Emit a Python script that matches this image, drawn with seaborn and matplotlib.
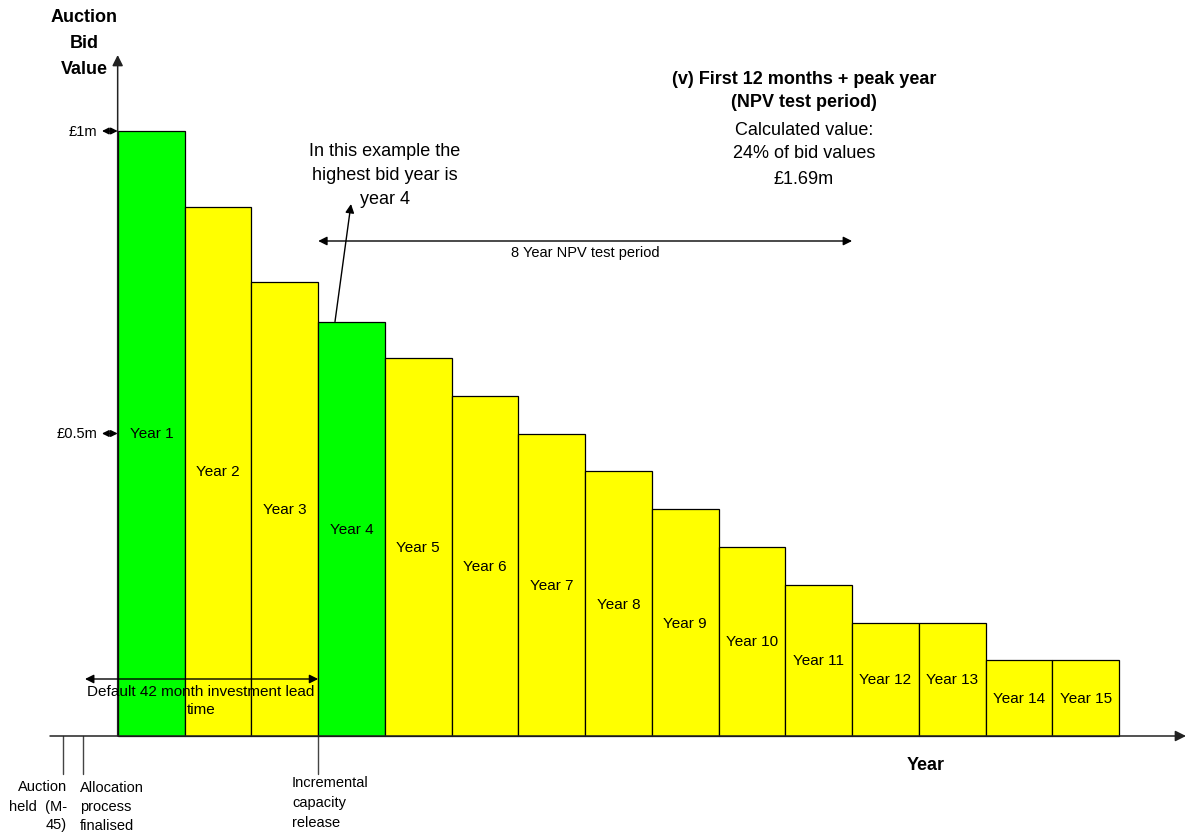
import matplotlib
matplotlib.use("Agg")
import matplotlib.pyplot as plt
import seaborn as sns
import pandas as pd

# Bid values per delivery year (in £m)
years = [f"Year {i}" for i in range(1, 16)]
bid_values = [1.0, 0.875, 0.75, 0.685, 0.625, 0.5625, 0.5, 0.4375,
              0.375, 0.3125, 0.25, 0.1875, 0.1875, 0.125, 0.125]
# Years inside the NPV test (first 12 months + peak year)
npv_years = ["Year 1", "Year 4"]
tick_values = [1.0, 0.5]
tick_labels = ["£1m", "£0.5m"]

sns.set_theme(style="white")
plt.rcParams["font.family"] = ["Liberation Sans", "DejaVu Sans"]
plt.rcParams["text.color"] = "black"

GREEN = "#00FF00"
YELLOW = "#FFFF00"
colors = {y: (GREEN if y in npv_years else YELLOW) for y in years}

df = pd.DataFrame({"year": years, "value": bid_values})

fig = plt.figure(figsize=(11.86, 8.37), dpi=100)
ax = fig.add_axes([0, 0, 1, 1])

sns.barplot(data=df, x="year", y="value", hue="year", palette=colors,
            order=years, legend=False, width=1.0, edgecolor="black",
            linewidth=0.9, saturation=1, ax=ax, zorder=2)

# canvas helpers: one bar = one unit on x, £1m = 605 px on y
BAR_W = (1119 - 118) / 15.0
def X(px):
    return -0.5 + (px - 118) / BAR_W
def Y(py):
    return (737 - py) / 605.0

ax.set_xlim(X(0), X(1186))
ax.set_ylim(Y(837), Y(0))
ax.axis("off")

def lines(x, ys, texts, **kw):
    for yy, t in zip(ys, texts):
        ax.text(x, Y(yy), t, va="center", **kw)

# bar labels at mid-height
for i, (y, v) in enumerate(zip(years, bid_values)):
    ax.text(i, v / 2, y, ha="center", va="center", fontsize=11, zorder=3)

# axes with arrowheads
ax.annotate("", xy=(X(1186), 0), xytext=(X(50), 0),
            arrowprops=dict(arrowstyle="-|>", color="#222222", lw=1.1,
                            mutation_scale=16, shrinkA=0, shrinkB=0), zorder=4)
ax.annotate("", xy=(-0.505, Y(56)), xytext=(-0.505, 0),
            arrowprops=dict(arrowstyle="-|>", color="#222222", lw=1.1,
                            mutation_scale=16, shrinkA=0, shrinkB=0), zorder=4)

lines(X(84), [18, 43, 70], ["Auction", "Bid", "Value"], ha="center",
      fontsize=13, fontweight="bold")

# value ticks on the y axis
for v, lab in zip(tick_values, tick_labels):
    ax.annotate("", xy=(X(102), v), xytext=(-0.505, v),
                arrowprops=dict(arrowstyle="<|-|>", color="black", lw=1,
                                mutation_scale=10, shrinkA=0, shrinkB=0), zorder=4)
    ax.text(X(97), v, lab, ha="right", va="center", fontsize=10.5)

ax.text(X(926), Y(766), "Year", ha="center", va="center",
        fontsize=13, fontweight="bold")

# timeline markers below the axis
for xp in (63, 83, 318):
    ax.plot([X(xp), X(xp)], [0, Y(775)], color="#444444", lw=1, zorder=1)

lines(X(67), [787, 807, 825], ["Auction", "held  (M-", "45)"], ha="right",
      fontsize=10.5)
lines(X(80), [788, 807, 826], ["Allocation", "process", "finalised"],
      ha="left", fontsize=10.5)
lines(X(292), [783, 803, 823], ["Incremental", "capacity", "release"],
      ha="left", fontsize=10.5)

# 42 month lead time
ax.annotate("", xy=(2.5, Y(680)), xytext=(X(85), Y(680)),
            arrowprops=dict(arrowstyle="<|-|>", color="black", lw=1,
                            mutation_scale=13, shrinkA=0, shrinkB=0), zorder=4)
for yy, t in zip([692, 710], ["Default 42 month investment lead", "time"]):
    ax.text(X(201), Y(yy), t, ha="center", va="center", fontsize=11, zorder=5)

# 8 year NPV test period
ax.annotate("", xy=(10.5, Y(242)), xytext=(2.5, Y(242)),
            arrowprops=dict(arrowstyle="<|-|>", color="black", lw=1,
                            mutation_scale=13, shrinkA=0, shrinkB=0), zorder=4)
ax.text(X(585), Y(253), "8 Year NPV test period", ha="center", va="center",
        fontsize=10.5)

# highest bid year callout
ax.annotate("", xy=(X(351), Y(205)), xytext=(X(335), bid_values[3]),
            arrowprops=dict(arrowstyle="-|>", color="black", lw=1,
                            mutation_scale=13, shrinkA=0, shrinkB=0), zorder=4)
lines(X(385), [152, 175, 199],
      ["In this example the", "highest bid year is", "year 4"],
      ha="center", fontsize=13)

# NPV test summary
lines(X(804), [79, 103], ["(v) First 12 months + peak year", "(NPV test period)"],
      ha="center", fontsize=13, fontweight="bold")
lines(X(804), [130, 154, 179], ["Calculated value:", "24% of bid values", "£1.69m"],
      ha="center", fontsize=13)

fig.savefig("out.png", dpi=100)
